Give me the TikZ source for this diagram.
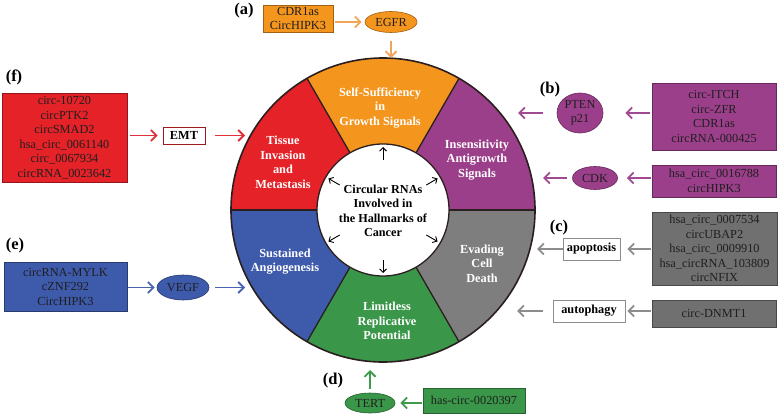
\documentclass[tikz,border=0pt]{standalone}
\usepackage{fontspec}
\setmainfont{Liberation Serif}
\usetikzlibrary{arrows.meta,calc,shapes.geometric}

\definecolor{cRed}{HTML}{E42228}
\definecolor{cOrange}{HTML}{F4951E}
\definecolor{cPurple}{HTML}{9C3F8B}
\definecolor{cGray}{HTML}{7E7E7E}
\definecolor{cGrayBox}{HTML}{707070}
\definecolor{cGreen}{HTML}{3A9648}
\definecolor{cBlue}{HTML}{3D5AAB}
\definecolor{cLine}{HTML}{2A1E1E}
\definecolor{aRed}{HTML}{E0303A}
\definecolor{aOrange}{HTML}{F0A55A}
\definecolor{aPurple}{HTML}{A04A92}
\definecolor{aGray}{HTML}{8C8C8C}
\definecolor{aGreen}{HTML}{3F9A4C}
\definecolor{aBlue}{HTML}{4A63AE}

\begin{document}
\begin{tikzpicture}[x=1pt,y=-1pt,
  lbl/.style={font=\fontsize{16.5}{18}\selectfont\bfseries,inner sep=0pt},
  seg/.style={text=white,font=\fontsize{12.3}{14.5}\selectfont\bfseries,align=center,inner sep=0pt},
  ctext/.style={text=black,font=\fontsize{12.2}{14.5}\selectfont\bfseries,align=center,inner sep=0pt},
  cbox/.style={draw=#1!65!black,fill=#1,line width=0.6pt,font=\fontsize{12.3}{14.5}\selectfont,align=center,inner sep=0pt,text=black!88},
  wbox/.style={draw=#1,fill=white,line width=0.6pt,font=\fontsize{12.3}{14}\selectfont\bfseries,align=center,inner sep=0pt,text=black},
  cell/.style={ellipse,draw=#1!65!black,fill=#1,line width=0.6pt,font=\fontsize{12.3}{14}\selectfont,align=center,inner sep=0pt,text=black!88},
  arr/.style={draw=#1,line width=1.8pt,-{Straight Barb[length=5.5pt,width=11pt]}},
  iarr/.style={draw=black,line width=0.9pt,-{Straight Barb[length=3.5pt,width=7pt]}}
]
\useasboundingbox (0,0) rectangle (778,417);
\fill[white] (0,0) rectangle (778,417);

% ---- wheel ----
\coordinate (C) at (383,210);
\begin{scope}[shift={(383,210)},yscale=-1]
  \foreach \a/\b/\col in {0/60/cPurple,60/120/cOrange,120/180/cRed,180/240/cBlue,240/300/cGreen,300/360/cGray}{
    \fill[\col] (\a:152) arc[start angle=\a,end angle=\b,radius=152] -- (\b:66) arc[start angle=\b,end angle=\a,radius=66] -- cycle;
  }
  \foreach \a in {0,60,...,300}{
    \draw[cLine,line width=1.3pt] (\a:65) -- (\a:152);
  }
  \draw[cLine,line width=1.6pt] (0,0) circle[radius=152];
  \draw[cLine,line width=1.3pt,fill=white] (0,0) circle[radius=66];
  \foreach \a in {30,90,150,210,270,330}{
    \draw[iarr] (\a:50) -- (\a:63);
  }
\end{scope}

\node[ctext] (center) at (383,211) {Circular RNAs\\Involved in\\the Hallmarks of\\Cancer};

\node[seg] (sOrange) at (380,108) {Self-Sufficiency\\in\\Growth Signals};
\node[seg] (sPurple) at (477,160) {Insensitivity\\Antigrowth\\Signals};
\node[seg] (sRed) at (283,162.5) {Tissue\\Invasion\\and\\Metastasis};
\node[seg] (sBlue) at (285,261.5) {Sustained\\Angiogenesis};
\node[seg] (sGray) at (482,263.5) {Evading\\Cell\\Death};
\node[seg] (sGreen) at (387,321) {Limitless\\Replicative\\Potential};

% ---- labels ----
\node[lbl] (la) at (244,11) {(a)};
\node[lbl] (lb) at (550,90) {(b)};
\node[lbl] (lc) at (559,228) {(c)};
\node[lbl] (ld) at (333,381) {(d)};
\node[lbl] (le) at (15,246) {(e)};
\node[lbl] (lf) at (14,77) {(f)};

% ---- (a) ----
\node[cbox=cOrange,minimum width=70pt,minimum height=27pt] (obox) at (298,18.5) {CDR1as\\CircHIPK3};
\node[cell=cOrange,minimum width=52pt,minimum height=21pt] (egfr) at (391,22) {EGFR};
\coordinate (aEnd) at (391,58);
\draw[arr=aOrange,shorten <=2pt,shorten >=3pt] (obox.east |- egfr) -- (egfr.west);
\draw[arr=aOrange,shorten <=8pt] (egfr.south) -- (aEnd);

% ---- (b) ----
\node[cbox=cPurple,minimum width=124pt,minimum height=67pt] (pbox1) at (714,116.5) {circ-ITCH\\circ-ZFR\\CDR1as\\circRNA-000425};
\node[cell=cPurple,minimum width=46pt,minimum height=40pt] (pten) at (580,113) {PTEN\\p21};
\node[cbox=cPurple,minimum width=124pt,minimum height=32pt] (pbox2) at (714,181) {hsa\_circ\_0016788\\circHIPK3};
\node[cell=cPurple,minimum width=45pt,minimum height=23pt] (cdk) at (595,178) {CDK};
\coordinate (bEnd1) at (518,113);
\coordinate (bEnd2) at (543,178);
\draw[arr=aPurple,shorten <=2pt,shorten >=22pt] (pbox1.west |- pten) -- (pten.east);
\draw[arr=aPurple,shorten <=14pt] (pten.west) -- (bEnd1);
\draw[arr=aPurple,shorten <=1pt,shorten >=9pt] (pbox2.west |- cdk) -- (cdk.east);
\draw[arr=aPurple,shorten <=5pt] (cdk.west) -- (bEnd2);

% ---- (c) ----
\node[cbox=cGrayBox,minimum width=125pt,minimum height=73pt] (gbox1) at (714.5,248.5) {hsa\_circ\_0007534\\circUBAP2\\hsa\_circ\_0009910\\hsa\_circRNA\_103809\\circNFIX};
\node[wbox=aGray,minimum width=57pt,minimum height=22pt] (apop) at (591.5,249) {apoptosis};
\node[cbox=cGrayBox,minimum width=124pt,minimum height=27pt] (dnmt) at (714,313.5) {circ-DNMT1};
\node[wbox=aGray,minimum width=72pt,minimum height=22pt] (auto) at (589,311) {autophagy};
\coordinate (cEnd1) at (537,249);
\coordinate (cEnd2) at (517,311);
\draw[arr=aGray,shorten <=1pt,shorten >=7pt] (gbox1.west |- apop) -- (apop.east);
\draw[arr=aGray] (apop.west) -- (cEnd1);
\draw[arr=aGray,shorten <=1pt,shorten >=2pt] (dnmt.west |- auto) -- (auto.east);
\draw[arr=aGray,shorten <=10pt] (auto.west) -- (cEnd2);

% ---- (d) ----
\node[cbox=cGreen,minimum width=102pt,minimum height=25pt] (grbox) at (474,400.5) {has-circ-0020397};
\node[cell=cGreen,minimum width=50pt,minimum height=20pt] (tert) at (370,403) {TERT};
\coordinate (dEnd) at (370,370);
\draw[arr=aGreen,shorten <=1pt,shorten >=5pt] (grbox.west |- tert) -- (tert.east);
\draw[arr=aGreen,shorten <=4pt] (tert.north) -- (dEnd);

% ---- (e) ----
\node[cbox=cBlue,minimum width=123pt,minimum height=49pt] (bbox) at (65.5,286.5) {circRNA-MYLK\\cZNF292\\CircHIPK3};
\node[cell=cBlue,minimum width=52pt,minimum height=25pt] (vegf) at (183,287.5) {VEGF};
\coordinate (eEnd) at (245,287.5);
\draw[arr=aBlue,shorten <=1pt,shorten >=2pt] (bbox.east |- vegf) -- (vegf.west);
\draw[arr=aBlue,shorten <=6pt] (vegf.east) -- (eEnd);

% ---- (f) ----
\node[cbox=cRed,minimum width=125pt,minimum height=89pt] (rbox) at (64.5,137.5) {circ-10720\\circPTK2\\circSMAD2\\hsa\_circ\_0061140\\circ\_0067934\\circRNA\_0023642};
\node[wbox=cRed!70!black,minimum width=42pt,minimum height=17pt] (emt) at (184,135.5) {EMT};
\coordinate (fEnd) at (245,135.5);
\draw[arr=aRed,shorten <=3pt,shorten >=5pt] (rbox.east |- emt) -- (emt.west);
\draw[arr=aRed,shorten <=10pt] (emt.east) -- (fEnd);
\end{tikzpicture}
\end{document}
